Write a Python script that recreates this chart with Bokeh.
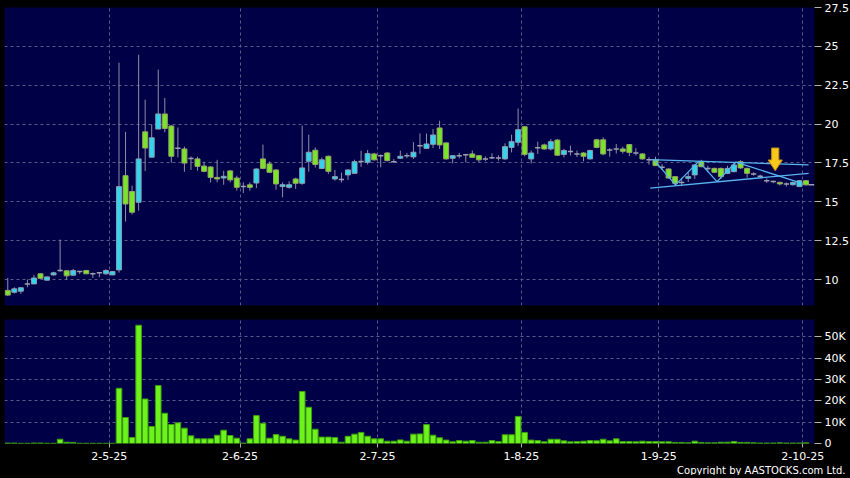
from bokeh.plotting import figure
from bokeh.models import (FixedTicker, CustomJSTickFormatter, Title, ColumnDataSource,
                          Range1d)
from bokeh.layouts import column
from bokeh.embed import file_html
from bokeh.resources import INLINE

# ---------------- data (daily candles, index 0 = first session shown) ----------------
opens = [9.30, 9.18, 9.25, 9.72, 9.72, 10.37, 9.96, 10.30, 10.58, 10.56,
         10.28, 10.51, 10.58, 10.37, 10.43, 10.37, 10.30, 10.62, 16.68, 15.66,
         14.97, 19.50, 17.87, 19.68, 20.65, 19.88, 18.44, 18.40, 17.78, 17.76,
         17.30, 17.24, 16.57, 16.53, 16.99, 16.53, 15.98, 16.09, 16.21, 17.76,
         17.44, 17.05, 15.98, 15.93, 16.47, 16.19, 17.61, 18.32, 17.15, 17.93,
         16.47, 16.43, 16.73, 16.83, 17.60, 17.54, 18.08, 17.97, 18.14, 17.58,
         17.80, 17.97, 17.89, 18.60, 18.44, 18.70, 19.75, 18.79, 17.80, 17.97,
         18.03, 18.08, 17.97, 17.76, 17.84, 17.82, 17.76, 18.50, 18.83, 19.83,
         17.76, 18.47, 18.66, 18.40, 18.97, 18.05, 18.23, 18.08, 18.14, 17.76,
         18.99, 18.99, 18.34, 18.40, 18.40, 18.68, 18.14, 18.08, 17.70, 17.71,
         17.22, 17.11, 16.62, 16.25, 16.51, 16.73, 17.60, 17.15, 17.15, 17.15,
         16.83, 16.94, 17.58, 17.15, 16.79, 16.64, 16.36, 16.30, 16.25, 16.15,
         16.10, 15.98, 16.36]
highs = [10.10, 9.50, 9.52, 10.00, 10.30, 10.40, 10.20, 10.50, 12.57, 10.60,
         10.68, 10.55, 10.62, 10.45, 10.47, 10.66, 10.55, 23.95, 19.50, 16.04,
         24.46, 21.57, 19.98, 23.50, 21.68, 19.93, 19.78, 18.55, 17.92, 17.90,
         17.58, 17.30, 17.70, 17.00, 17.05, 16.68, 16.25, 16.25, 17.15, 18.68,
         17.60, 17.10, 16.25, 16.32, 16.55, 19.90, 19.32, 18.50, 17.85, 17.98,
         17.05, 16.88, 17.10, 17.71, 18.29, 18.34, 18.15, 18.05, 18.20, 17.75,
         18.29, 18.15, 18.84, 19.40, 19.40, 19.69, 20.22, 18.82, 18.00, 18.15,
         18.08, 18.30, 18.00, 17.92, 18.12, 18.00, 18.76, 19.32, 21.00, 19.87,
         18.30, 18.87, 18.75, 19.04, 19.04, 18.42, 18.61, 18.30, 18.20, 18.36,
         19.05, 19.15, 18.45, 18.72, 18.55, 18.72, 18.45, 18.12, 17.87, 17.90,
         17.43, 17.15, 16.66, 16.55, 16.90, 17.42, 17.70, 17.32, 17.20, 17.20,
         17.32, 17.54, 17.68, 17.20, 16.90, 16.75, 16.50, 16.36, 16.30, 16.25,
         16.30, 16.40, 16.40]
lows = [8.95, 9.10, 9.08, 9.50, 9.70, 10.05, 9.94, 10.25, 10.50, 9.98,
        10.25, 10.35, 10.35, 10.10, 10.15, 10.30, 10.28, 10.45, 13.73, 14.18,
        14.43, 16.98, 17.87, 19.68, 19.47, 17.52, 17.86, 16.93, 17.05, 17.00,
        16.90, 16.25, 16.25, 16.10, 16.25, 15.72, 15.57, 15.72, 15.89, 17.10,
        16.85, 15.78, 15.29, 15.85, 15.83, 16.10, 16.94, 17.20, 17.10, 16.80,
        16.36, 16.25, 16.41, 16.80, 17.25, 17.40, 17.65, 17.22, 17.60, 17.52,
        17.75, 17.80, 17.76, 18.08, 18.40, 18.46, 18.40, 17.72, 17.47, 17.80,
        17.54, 17.84, 17.54, 17.62, 17.75, 17.65, 17.70, 18.18, 18.60, 17.93,
        17.47, 18.08, 18.35, 18.30, 17.95, 17.86, 17.98, 17.88, 17.60, 17.72,
        18.45, 18.00, 17.90, 18.10, 18.10, 17.95, 17.98, 17.72, 17.39, 17.30,
        17.05, 16.50, 16.12, 16.05, 16.28, 16.47, 17.22, 16.90, 16.85, 16.47,
        16.78, 16.90, 17.12, 16.55, 16.68, 16.55, 16.22, 16.20, 16.05, 15.98,
        16.05, 15.95, 16.05]
closes = [9.00, 9.40, 9.47, 9.72, 10.10, 10.08, 10.17, 10.43, 10.58, 10.24,
          10.58, 10.51, 10.37, 10.37, 10.43, 10.58, 10.51, 15.98, 14.86, 14.33,
          17.76, 18.46, 19.12, 20.65, 19.72, 17.93, 18.44, 17.49, 17.78, 17.28,
          16.96, 16.57, 16.47, 16.64, 16.41, 15.93, 15.98, 15.93, 17.11, 17.15,
          16.90, 16.15, 16.10, 16.10, 16.19, 17.18, 18.19, 17.40, 17.70, 16.96,
          16.62, 16.43, 17.05, 17.58, 17.60, 18.10, 17.70, 17.97, 17.65, 17.58,
          17.93, 17.97, 18.19, 18.60, 18.72, 19.30, 18.66, 17.76, 17.97, 17.97,
          18.03, 17.86, 17.70, 17.76, 17.84, 17.82, 18.55, 18.87, 19.64, 18.05,
          18.14, 18.47, 18.40, 18.87, 18.00, 18.30, 18.23, 18.08, 17.93, 18.30,
          18.50, 18.08, 18.34, 18.40, 18.25, 18.18, 18.14, 17.76, 17.70, 17.33,
          17.22, 16.53, 16.19, 16.25, 16.62, 17.37, 17.26, 17.15, 16.90, 16.62,
          17.15, 17.37, 17.18, 16.83, 16.79, 16.64, 16.36, 16.30, 16.15, 16.15,
          16.25, 16.36, 16.09]
volumes = [200, 200, 100, 100, 200, 200, 100, 100, 2000, 600,
           500, 100, 100, 100, 100, 100, 100, 25900, 12200, 2800,
           55500, 20900, 8000, 27200, 14200, 8900, 9700, 7200, 3600, 2200,
           2200, 2200, 3900, 6250, 3750, 2500, 200, 2200, 13100, 9500,
           2500, 4200, 3400, 2200, 1600, 24400, 17000, 6700, 3000, 3000,
           2800, 600, 3400, 4400, 5200, 3400, 2200, 2200, 1100, 1100,
           1700, 1100, 4400, 4500, 8900, 3900, 2700, 1600, 800, 1400,
           1100, 1400, 600, 600, 1400, 900, 4100, 4100, 12700, 5200,
           1600, 1400, 800, 2000, 2000, 1250, 800, 900, 1100, 1400,
           1250, 2000, 1250, 2200, 900, 900, 800, 1100, 900, 900,
           800, 800, 500, 500, 300, 1100, 500, 300, 300, 600,
           600, 900, 500, 500, 300, 200, 200, 200, 300, 200,
           200, 200, 300]

# month-start sessions (grid / tick positions on the session index axis)
tick_pos = [15.5, 35.5, 56.5, 78.5, 99.5, 121.5]
tick_labels = ["2-5-25", "2-6-25", "2-7-25", "1-8-25", "1-9-25", "2-10-25"]
price_ticks = [10, 12.5, 15, 17.5, 20, 22.5, 25, 27.5]
vol_ticks = [0, 10000, 20000, 30000, 40000, 50000]

# drawn trend lines (session index, price)
upper_x = [98.2, 122.4]
upper_y = [17.72, 17.37]
lower_x = [98.2, 122.4]
lower_y = [15.88, 16.83]
zigzag_x = [98.75, 102.06, 105.6, 108.4, 111.3, 120.9]
zigzag_y = [17.70, 16.09, 17.60, 16.30, 17.56, 16.25]

# marker arrow (session index, price)
arrow_x = 117.3
arrow_top = 18.46
arrow_head = 17.69
arrow_tip = 17.00

# ---------------- styles ----------------
BG = "#000046"
GRID = "#5a5a88"
FONT = "DejaVu Sans"
UP_FILL, UP_LINE = "#2fd6ee", "#8c9cb0"
DN_FILL, DN_LINE = "#78e52a", "#98a464"
WICK = "#8e8ea4"
VOL_FILL, VOL_LINE = "#6ef21c", "#3c9e0e"
TREND = "#5ab4ee"

n = len(opens)
idx = list(range(n))
up = [i for i in idx if closes[i] > opens[i]]
dn = [i for i in idx if closes[i] < opens[i]]
dj = [i for i in idx if closes[i] == opens[i]]

x_rng = Range1d(-0.5, 123.3)

p = figure(frame_width=810, frame_height=298, x_range=x_rng,
           y_range=Range1d(8.33, 27.5), x_axis_location=None,
           y_axis_location="right", output_backend="svg", toolbar_location=None,
           background_fill_color=BG, border_fill_color="black",
           outline_line_color=None, min_border_left=4, min_border_top=7,
           min_border_bottom=14, min_border_right=36)

p.ygrid.ticker = FixedTicker(ticks=price_ticks)
p.xgrid.ticker = FixedTicker(ticks=tick_pos)
for g in (p.xgrid, p.ygrid):
    g.grid_line_color = GRID
    g.grid_line_dash = "3 3"
    g.grid_line_width = 1

ya = p.yaxis[0]
ya.ticker = FixedTicker(ticks=price_ticks)
ya.formatter = CustomJSTickFormatter(code="return String(tick);")

def style_axis(ax):
    ax.axis_line_color = None
    ax.major_tick_line_color = "#b0b0b0"
    ax.major_tick_in = 0
    ax.major_tick_out = 7
    ax.minor_tick_line_color = None
    ax.major_label_text_color = "white"
    ax.major_label_text_font = FONT
    ax.major_label_text_font_size = "11px"
    ax.major_label_standoff = 3

style_axis(ya)

# wicks
wick_src = ColumnDataSource(dict(x=idx, h=highs, l=lows))
p.segment(x0="x", y0="l", x1="x", y1="h", source=wick_src, line_color=WICK, line_width=1)

# bodies
up_src = ColumnDataSource(dict(x=up, top=[closes[i] for i in up], bot=[opens[i] for i in up]))
dn_src = ColumnDataSource(dict(x=dn, top=[opens[i] for i in dn], bot=[closes[i] for i in dn]))
p.vbar(x="x", top="top", bottom="bot", width=0.76, source=up_src,
       fill_color=UP_FILL, line_color=UP_LINE, line_width=1)
p.vbar(x="x", top="top", bottom="bot", width=0.76, source=dn_src,
       fill_color=DN_FILL, line_color=DN_LINE, line_width=1)
dj_src = ColumnDataSource(dict(x0=[i - 0.4 for i in dj], x1=[i + 0.4 for i in dj],
                               y=[opens[i] for i in dj]))
p.segment(x0="x0", y0="y", x1="x1", y1="y", source=dj_src, line_color="#a0a0b0", line_width=1.5)

# last price stub to the right edge
p.segment(x0=[n - 1 + 0.4], y0=[closes[-1]], x1=[x_rng.end], y1=[closes[-1]],
          line_color="#a0a0b0", line_width=1.5)

# trend lines
p.line(upper_x, upper_y, line_color=TREND, line_width=1.3)
p.line(lower_x, lower_y, line_color=TREND, line_width=1.3)
p.line(zigzag_x, zigzag_y, line_color=TREND, line_width=1.3)

# arrow marker
sw, hw = 0.55, 1.08
p.patch([arrow_x - sw, arrow_x + sw, arrow_x + sw, arrow_x + hw, arrow_x, arrow_x - hw, arrow_x - sw],
        [arrow_top, arrow_top, arrow_head, arrow_head, arrow_tip, arrow_head, arrow_head],
        fill_color="#f8c81a", line_color="#c8900e", line_width=1)

# ---------------- volume panel ----------------
v = figure(frame_width=810, frame_height=124, x_range=x_rng,
           y_range=Range1d(0, 58200), y_axis_location="right",
           output_backend="svg", toolbar_location=None,
           background_fill_color=BG, border_fill_color="black",
           outline_line_color=None, min_border_left=4, min_border_top=0,
           min_border_bottom=0, min_border_right=36)

v.ygrid.ticker = FixedTicker(ticks=vol_ticks)
v.xgrid.ticker = FixedTicker(ticks=tick_pos)
for g in (v.xgrid, v.ygrid):
    g.grid_line_color = GRID
    g.grid_line_dash = "3 3"
    g.grid_line_width = 1

vy = v.yaxis[0]
vy.ticker = FixedTicker(ticks=vol_ticks)
vy.formatter = CustomJSTickFormatter(code="return tick == 0 ? '0' : (tick / 1000) + 'K';")
style_axis(vy)

vx = v.xaxis[0]
vx.ticker = FixedTicker(ticks=tick_pos)
vx.formatter = CustomJSTickFormatter(args=dict(pos=tick_pos, lab=tick_labels),
                                     code="const i = pos.indexOf(tick); return i >= 0 ? lab[i] : '';")
style_axis(vx)
vx.major_tick_out = 4
vx.major_label_standoff = 4

vol_src = ColumnDataSource(dict(x=idx, v=volumes))
v.vbar(x="x", top="v", bottom=0, width=0.86, source=vol_src,
       fill_color=VOL_FILL, line_color=VOL_LINE, line_width=1)

copy = Title(text="Copyright by AASTOCKS.com Ltd.", align="right", text_color="white",
             text_font=FONT, text_font_size="10px",
             text_font_style="normal", standoff=0, offset=-31)
v.add_layout(copy, "below")

layout = column(p, v, styles={"background-color": "black",
                              "box-shadow": "0 0 0 2000px #000"})

open("out.html", "w").write(file_html(layout, INLINE))
